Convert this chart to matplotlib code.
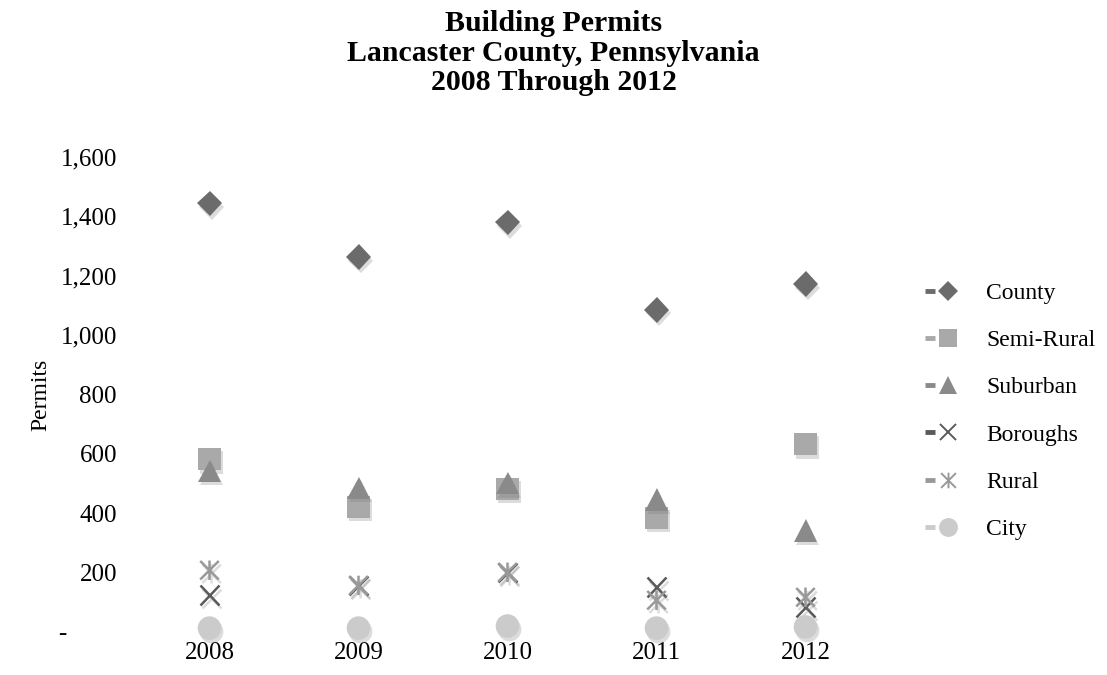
import numpy as np
import matplotlib
matplotlib.use('Agg')
import matplotlib.pyplot as plt
import matplotlib.patheffects as pe
from matplotlib.path import Path
from matplotlib.lines import Line2D
from matplotlib.legend_handler import HandlerTuple

plt.rcParams['font.family'] = ['Liberation Serif', 'DejaVu Serif']

years = ['2008', '2009', '2010', '2011', '2012']
county = [1444, 1263, 1380, 1085, 1172]
semi_rural = [583, 422, 482, 385, 633]
suburban = [543, 486, 502, 446, 342]
boroughs = [124, 157, 201, 151, 84]
rural = [208, 157, 201, 107, 117]
city = [13, 13, 20, 13, 17]

# asterisk marker: x with a vertical bar
star = Path([(-1, -1), (1, 1), (-1, 1), (1, -1), (0, -1.05), (0, 1.05)],
            [Path.MOVETO, Path.LINETO, Path.MOVETO, Path.LINETO, Path.MOVETO, Path.LINETO])

series = [
    ('County', county, 'D', '#6b6b6b', 13, True),
    ('Semi-Rural', semi_rural, 's', '#a9a9a9', 16, True),
    ('Suburban', suburban, '^', '#8a8a8a', 16, True),
    ('Boroughs', boroughs, 'x', '#5a5a5a', 14, False),
    ('Rural', rural, star, '#999999', 14, False),
    ('City', city, 'o', '#cbcbcb', 17, True),
]

fig = plt.figure(figsize=(11.07, 6.75), dpi=100)
ax = fig.add_axes([135 / 1107, 1 - 632 / 675, 745 / 1107, 475 / 675])

x = np.arange(len(years))
handles = []
for name, vals, mk, col, ms, filled in series:
    if filled:
        effects = [pe.SimplePatchShadow(offset=(1.5, -2.5), shadow_rgbFace='#777777', alpha=0.25), pe.Normal()]
        ln, = ax.plot(x, vals, linestyle='none', marker=mk, markersize=ms, color=col,
                      markeredgewidth=0, path_effects=effects, zorder=3, clip_on=False)
    else:
        effects = [pe.SimpleLineShadow(offset=(1.5, -2.5), shadow_color='#777777', alpha=0.25), pe.Normal()]
        ln, = ax.plot(x, vals, linestyle='none', marker=mk, markersize=ms, color=col,
                      markeredgewidth=1.8, path_effects=effects, zorder=3, clip_on=False)
    dash = Line2D([], [], linestyle='none', marker='_', markersize=7, markeredgewidth=3.5, color=col)
    mark = Line2D([], [], linestyle='none', marker=mk, markersize=ms * 0.8, color=col,
                  markeredgewidth=0 if filled else 1.4)
    handles.append((dash, mark))

ax.set_xlim(-0.5, 4.5)
ax.set_ylim(0, 1600)
ax.set_xticks(x)
ax.set_xticklabels(years, fontsize=18)
yt = np.arange(0, 1601, 200)
ax.set_yticks(yt)
ax.set_yticklabels(['-        '] + [f'{v:,}' for v in yt[1:]], fontsize=18)
ax.tick_params(length=0, pad=13)
ax.tick_params(axis='x', pad=7)
for s in ax.spines.values():
    s.set_visible(False)
ax.set_ylabel('Permits', fontsize=17, labelpad=5)

fig.suptitle('Building Permits\nLancaster County, Pennsylvania\n2008 Through 2012',
             fontsize=21.5, fontweight='bold', y=0.985, linespacing=1.12)

fig.legend(handles, [s[0] for s in series], handler_map={tuple: HandlerTuple(ndivide=None, pad=0.0)},
           loc='upper left', bbox_to_anchor=(900 / 1107, 1 - 261 / 675), frameon=False,
           fontsize=17, labelspacing=1.09, handlelength=1.5, handletextpad=1.25)

fig.savefig('out.png', dpi=100)
